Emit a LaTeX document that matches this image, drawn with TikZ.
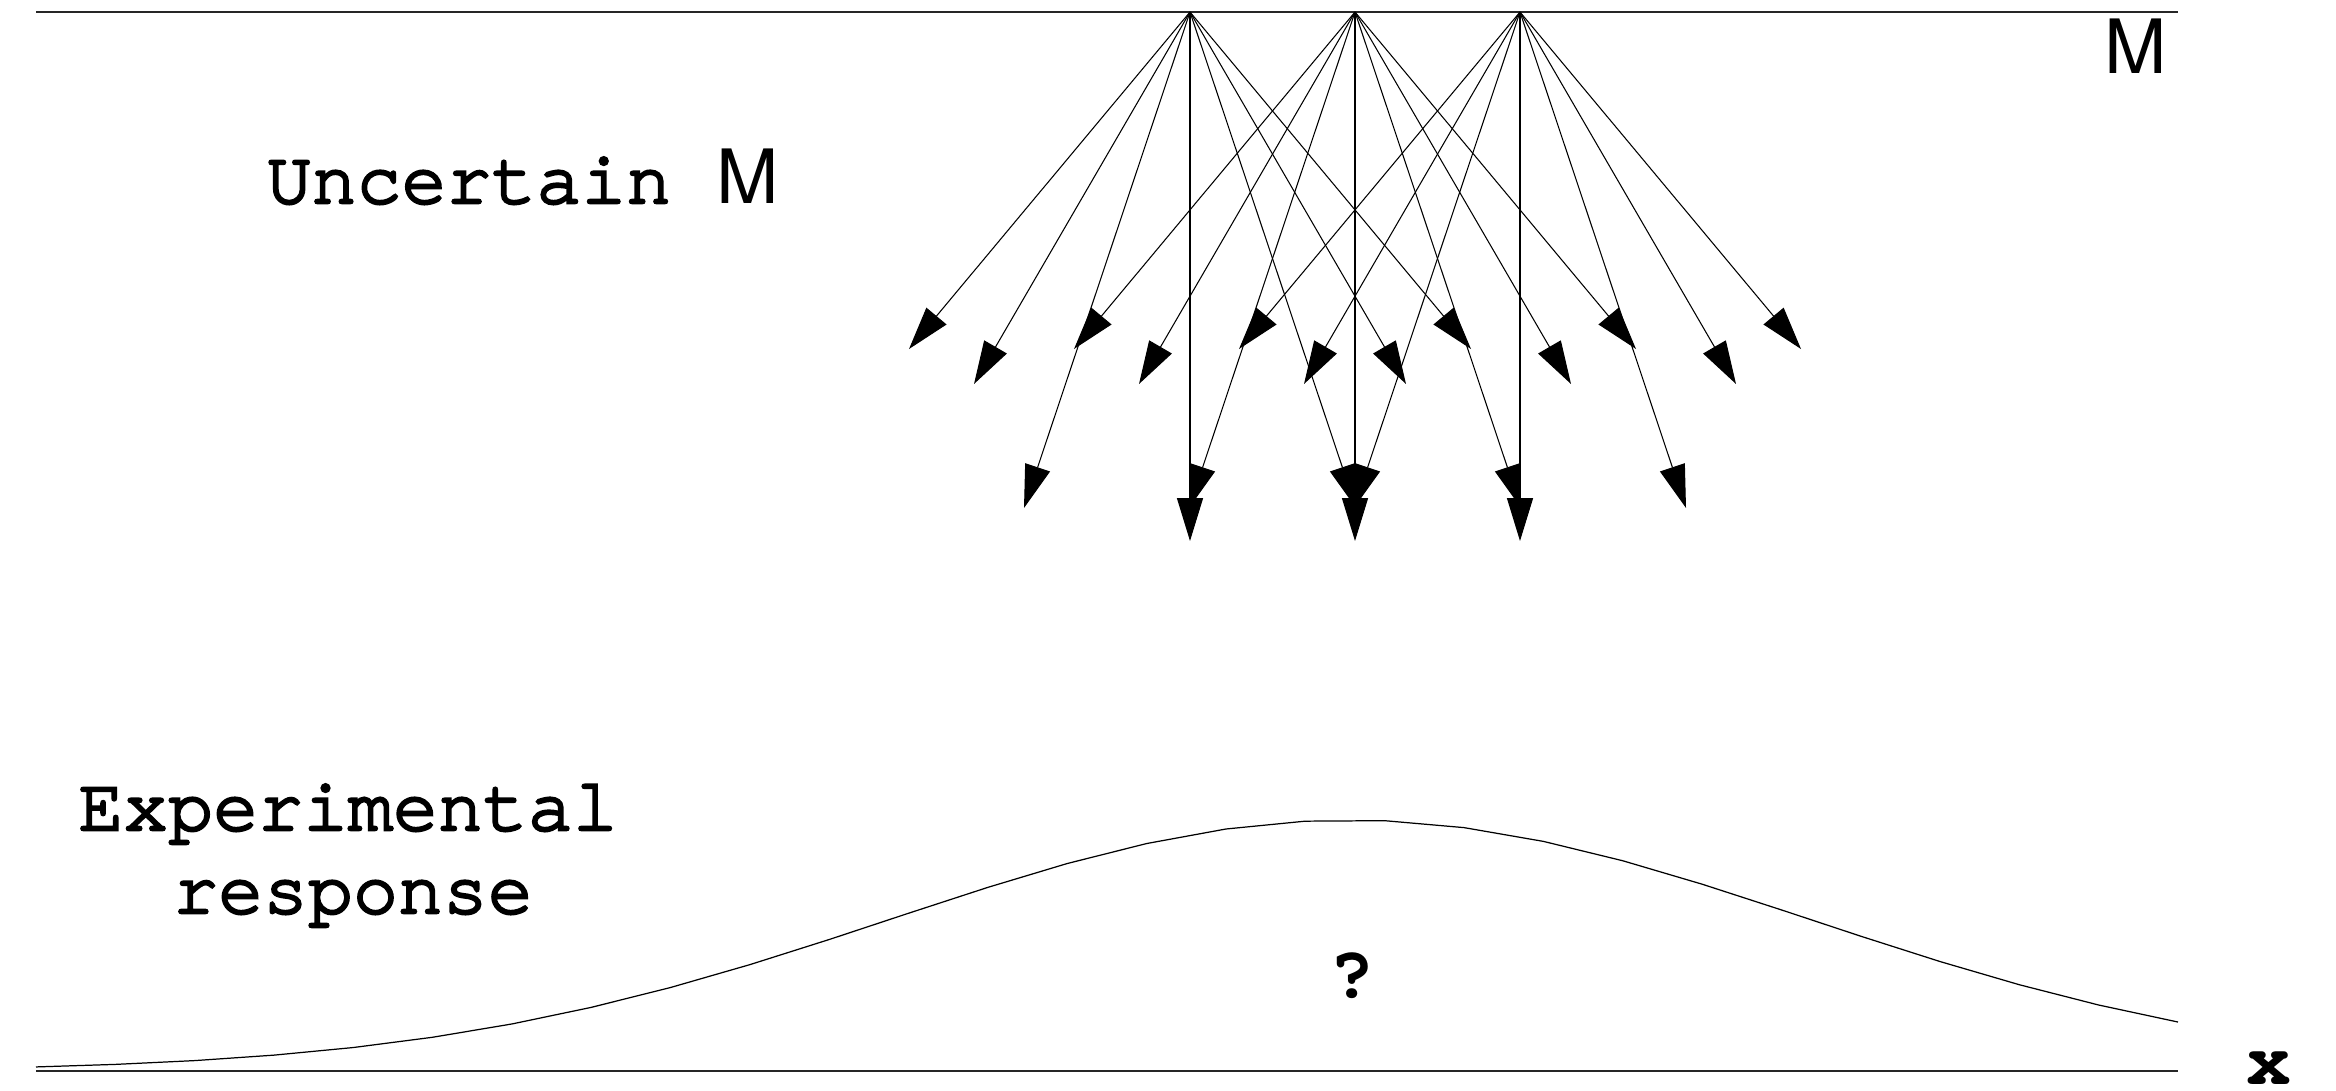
\documentclass[tikz,border=0pt]{standalone}
\usepackage[T1,TU]{fontenc}
\usepackage{fontspec}
\setmainfont{Liberation Serif}
\newfontfamily\cursorfam[FakeBold=3.5]{texgyrecursor-regular.otf}
\usetikzlibrary{arrows.meta}
\newcommand{\courfont}{\cursorfam\fontsize{21.3}{24}\selectfont}
\newcommand{\courbold}{\fontencoding{T1}\fontfamily{pcr}\fontseries{b}\fontshape{n}\fontsize{21.3}{24}\selectfont}
\newcommand{\helvfont}{\fontencoding{T1}\fontfamily{phv}\fontseries{m}\fontshape{n}\fontsize{21.3}{24}\selectfont}
\begin{document}
\begin{tikzpicture}[x=0.01cm,y=-0.01cm,
  lab/.style={inner sep=0pt, anchor=base, font=\courfont},
  boldlab/.style={lab, font=\courbold},
  axisline/.style={line width=0.5pt, black!85},
  ray/.style={line width=0.3pt, -{Triangle[length=12.2pt,width=7.4pt]}},
  curveline/.style={line width=0.35pt}]
\useasboundingbox (0,0) rectangle (2336,1090);
% axes
\coordinate (tl) at (36,12);
\coordinate (tr) at (2178,12);
\coordinate (bl) at (36,1071);
\coordinate (br) at (2178,1071);
\draw[axisline] (tl) -- (tr);
\draw[axisline] (bl) -- (br);
% fans of arrows
\foreach \i/\sx in {1/1190,2/1355,3/1520}{
  \coordinate (s\i) at (\sx,12);
  \foreach \j/\dx/\dy in {a/-281/337, b/-216/372, c/-166/496, d/0/529, e/166/496, f/216/372, g/281/337}{
    \coordinate (t\i\j) at ({\sx+(\dx)},{12+\dy});
    \draw[ray] (s\i) -- (t\i\j);
  }
}
% response curve
\draw[curveline] plot[domain=36:2178, samples=28] (\x, {1071-251*exp(-0.5*((\x-1350)/458)^2)});
% labels
\node[lab, anchor=base west] (unc) at (266,203) {Uncertain};
\node[lab, anchor=base west, font=\helvfont] (uncm) at (716,203) {M};
\node[lab, font=\helvfont] (mlab) at (2136,73) {M};
\node[lab] (exp1) at (348,830) {Experimental};
\node[lab] (exp2) at (353,913) {response};
\node[boldlab] (q) at (1352,997) {?};
\node[boldlab] (xlab) at (2269,1084) {x};
\end{tikzpicture}
\end{document}
